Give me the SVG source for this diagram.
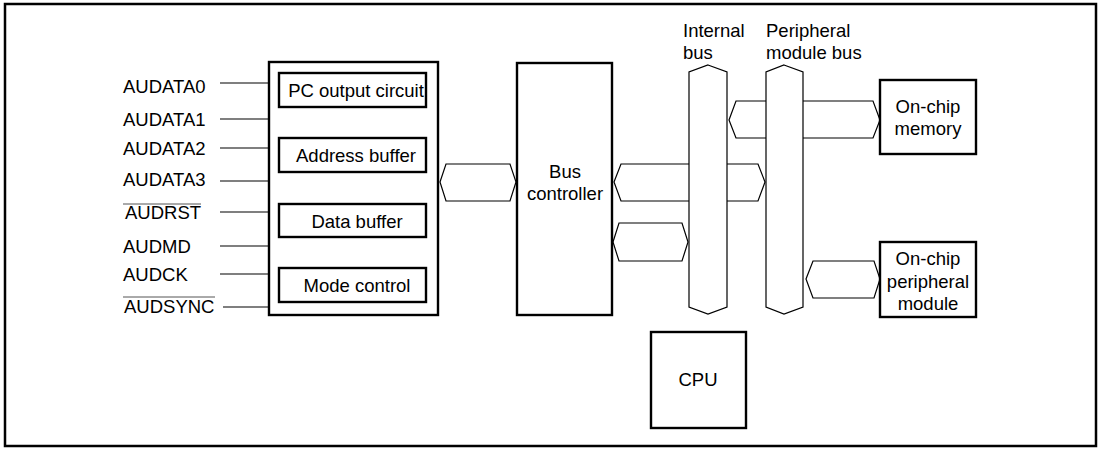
<svg xmlns="http://www.w3.org/2000/svg" width="1101" height="449" viewBox="0 0 1101 449">
<style>
text{font-family:"Liberation Sans",Arial,sans-serif;font-size:18.5px;fill:#000}
.c{text-anchor:middle}
.box{fill:#fff;stroke:#000;stroke-width:2.4}
.bus{fill:#fff;stroke:#000;stroke-width:1.2}
.hex{fill:#fff;stroke:#000;stroke-width:1.2}
.sig{stroke:#000;stroke-width:1.2;fill:none}
.ov{stroke:#555;stroke-width:1;fill:none}
</style>
<rect x="5" y="4" width="1091" height="442" fill="#fff" stroke="#000" stroke-width="2.5"/>
<g id="connectors">
<line class="sig" x1="220" y1="83" x2="269" y2="83"/>
<line class="sig" x1="220" y1="119" x2="269" y2="119"/>
<line class="sig" x1="220" y1="148" x2="269" y2="148"/>
<line class="sig" x1="220" y1="181" x2="269" y2="181"/>
<line class="sig" x1="220" y1="212" x2="269" y2="212"/>
<line class="sig" x1="220" y1="246" x2="269" y2="246"/>
<line class="sig" x1="220" y1="274" x2="269" y2="274"/>
<line class="sig" x1="223" y1="307" x2="269" y2="307"/>
<polygon class="hex" points="440,182 446,164 510,164 516,182 510,201 446,201"/>
<polygon class="hex" points="614,182 621,164 758,164 765,182 758,201 621,201"/>
<polygon class="hex" points="613,242 619,223 682,223 688,242 682,261 619,261"/>
<polygon class="hex" points="729,120 736,101 873,101 880,120 873,138 736,138"/>
<polygon class="hex" points="806,279 813,261 874,261 880,279 874,298 813,298"/>
</g>
<g id="signals">
<text x="123" y="93">AUDATA0</text>
<text x="123" y="126">AUDATA1</text>
<text x="123" y="155">AUDATA2</text>
<text x="123" y="186">AUDATA3</text>
<text x="125" y="219">AUDRST</text>
<line class="ov" x1="123" y1="204" x2="201" y2="204"/>
<text x="123" y="253">AUDMD</text>
<text x="123" y="281">AUDCK</text>
<text x="124" y="313">AUDSYNC</text>
<line class="ov" x1="123" y1="297" x2="215" y2="297"/>
</g>
<g id="aud">
<rect class="box" x="269" y="62" width="169" height="253"/>
<g id="pc-output"><rect class="box" x="279" y="73" width="147" height="34"/><text class="c" x="356" y="97">PC output circuit</text></g>
<g id="address-buffer"><rect class="box" x="279" y="138" width="147" height="34"/><text class="c" x="356" y="162">Address buffer</text></g>
<g id="data-buffer"><rect class="box" x="279" y="204" width="147" height="33"/><text class="c" x="357" y="228">Data buffer</text></g>
<g id="mode-control"><rect class="box" x="279" y="268" width="147" height="34"/><text class="c" x="357" y="292">Mode control</text></g>
</g>
<g id="bus-controller">
<rect class="box" x="517" y="63" width="95" height="252"/>
<text class="c" x="565" y="178">Bus</text>
<text class="c" x="565" y="200">controller</text>
</g>
<g id="internal-bus">
<polygon class="bus" points="708,65 727,72 727,307 708,314 689,307 689,72"/>
<text x="683" y="37">Internal</text>
<text x="683" y="59">bus</text>
</g>
<g id="peripheral-bus">
<polygon class="bus" points="784,65 803,72 803,307 784,314 766,307 766,72"/>
<text x="766" y="37">Peripheral</text>
<text x="766" y="59">module bus</text>
</g>
<g id="memory">
<rect class="box" x="880" y="80" width="96" height="74"/>
<text class="c" x="928" y="113">On-chip</text>
<text class="c" x="928" y="135">memory</text>
</g>
<g id="peripheral-module">
<rect class="box" x="880" y="242" width="96" height="75"/>
<text class="c" x="928" y="265">On-chip</text>
<text class="c" x="928" y="288">peripheral</text>
<text class="c" x="928" y="310">module</text>
</g>
<g id="cpu">
<rect class="box" x="651" y="332" width="95" height="96"/>
<text class="c" x="698" y="386">CPU</text>
</g>
</svg>
